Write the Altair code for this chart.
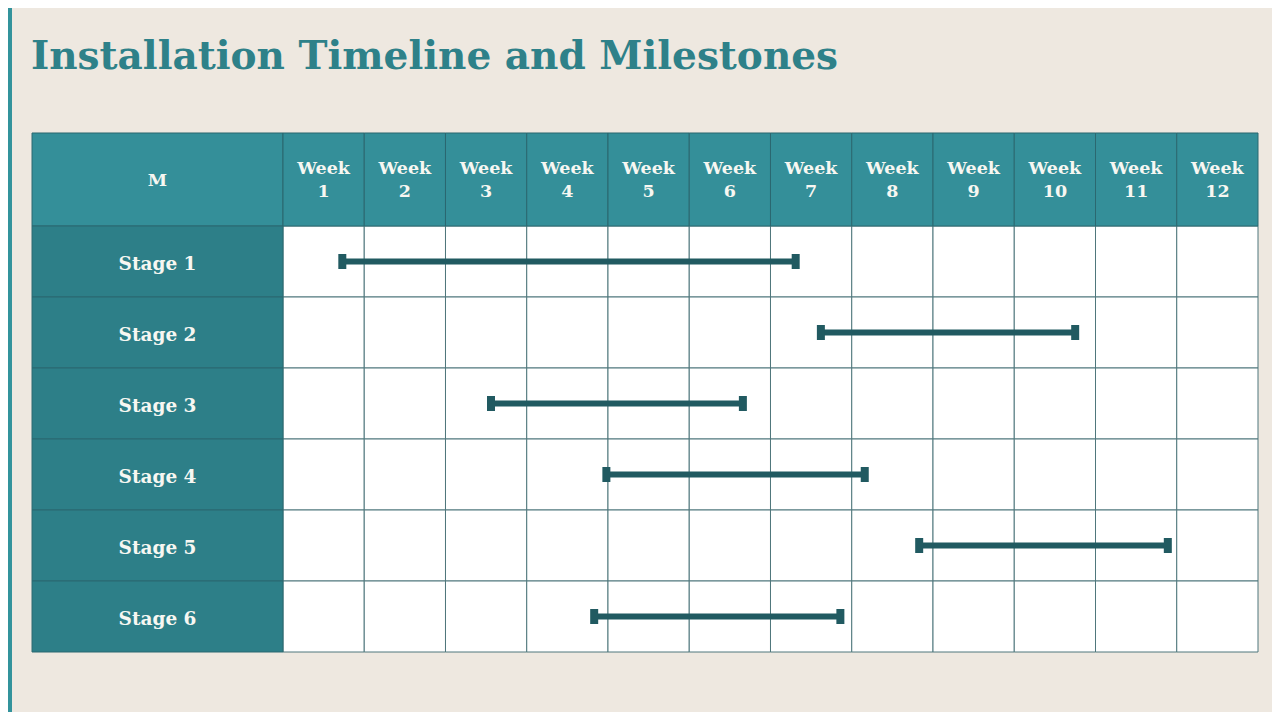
import altair as alt
import pandas as pd

title_text = "Installation Timeline and Milestones"
corner_label = "M"
week_labels = [f"Week\n{i}" for i in range(1, 13)]
stages = ["Stage 1", "Stage 2", "Stage 3", "Stage 4", "Stage 5", "Stage 6"]
start_week = [0.73, 6.62, 2.56, 3.98, 7.83, 3.83]
end_week = [6.31, 9.75, 5.66, 7.16, 10.89, 6.86]

BG = "#EEE8E0"
HEAD = "#348F99"
SIDE = "#2D7F88"
BORDER = "#2B6870"
GRID = "#4F777C"
BAR = "#215A61"
FONT = "DejaVu Serif"

W, H = 1264, 704
LABEL_W = -3.089   # label column left edge in week units
HEAD_TOP = -1.31   # header top in row units

X = alt.Scale(domain=[-3.3846, 12.1723], nice=False, zero=False)
Y = alt.Scale(domain=[6.845, -3.0704], nice=False, zero=False)

n_w = len(week_labels)
n_s = len(stages)

header_df = pd.DataFrame(
    [{"x": LABEL_W, "x2": 0, "y": HEAD_TOP, "y2": 0, "label": corner_label, "ym": -0.64}]
    + [{"x": i, "x2": i + 1, "y": HEAD_TOP, "y2": 0, "label": week_labels[i], "ym": -0.80} for i in range(n_w)]
)
header_df["xm"] = (header_df["x"] + header_df["x2"]) / 2

side_df = pd.DataFrame([{"x": LABEL_W, "x2": 0, "y": r, "y2": r + 1, "label": stages[r]} for r in range(n_s)])
side_df["xm"] = LABEL_W / 2
side_df["ym"] = side_df["y"] + 0.5

cells_df = pd.DataFrame([{"x": c, "x2": c + 1, "y": r, "y2": r + 1} for r in range(n_s) for c in range(n_w)])

bars_df = pd.DataFrame({"stage": stages, "start": start_week, "end": end_week})
bars_df["ym"] = [r + 0.5 for r in range(n_s)]
caps_df = pd.concat([
    bars_df[["start", "ym"]].rename(columns={"start": "pos"}),
    bars_df[["end", "ym"]].rename(columns={"end": "pos"}),
])

enc_rect = dict(
    x=alt.X("x:Q", scale=X, axis=None), x2="x2:Q",
    y=alt.Y("y:Q", scale=Y, axis=None), y2="y2:Q",
)

cells = alt.Chart(cells_df).mark_rect(fill="white", stroke=GRID, strokeWidth=1).encode(**enc_rect)
header = alt.Chart(header_df).mark_rect(fill=HEAD, stroke=BORDER, strokeWidth=1).encode(**enc_rect)
side = alt.Chart(side_df).mark_rect(fill=SIDE, stroke=BORDER, strokeWidth=1).encode(**enc_rect)

header_text = alt.Chart(header_df).mark_text(
    font=FONT, fontWeight="bold", fontSize=17.5, color="#F7F7F2",
    lineBreak="\n", lineHeight=23, baseline="middle", align="center",
).encode(
    x=alt.X("xm:Q", scale=X, axis=None),
    y=alt.Y("ym:Q", scale=Y, axis=None),
    text="label:N",
)

side_text = alt.Chart(side_df).mark_text(
    font=FONT, fontWeight="bold", fontSize=18.5, color="#F7F7F2",
    baseline="middle", align="center", dy=2,
).encode(
    x=alt.X("xm:Q", scale=X, axis=None),
    y=alt.Y("ym:Q", scale=Y, axis=None),
    text="label:N",
)

bars = alt.Chart(bars_df).mark_rule(color=BAR, strokeWidth=6).encode(
    x=alt.X("start:Q", scale=X, axis=None), x2="end:Q",
    y=alt.Y("ym:Q", scale=Y, axis=None),
)

caps = alt.Chart(caps_df).mark_tick(color=BAR, orient="vertical", size=15, thickness=8, opacity=1).encode(
    x=alt.X("pos:Q", scale=X, axis=None),
    y=alt.Y("ym:Q", scale=Y, axis=None),
)

strip = alt.Chart(pd.DataFrame({"a": [0]})).mark_rect(color="#33939C").encode(
    x=alt.value(0), x2=alt.value(4), y=alt.value(0), y2=alt.value(H),
)

title = alt.Chart(pd.DataFrame({"t": [title_text]})).mark_text(
    font=FONT, fontWeight="bold", fontSize=39, color="#2E8189",
    align="left", baseline="alphabetic",
).encode(x=alt.value(23), y=alt.value(61), text="t:N")

chart = alt.layer(strip, title, cells, header, side, header_text, side_text, bars, caps).properties(
    width=W, height=H, autosize=alt.AutoSizeParams(type="none"), padding=0,
).configure(background=BG).configure_view(stroke=None)

chart.save("out.html", embed_options={"renderer": "svg", "actions": False})
